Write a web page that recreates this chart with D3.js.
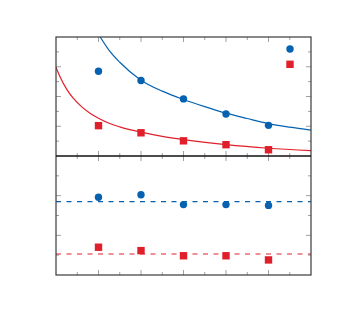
<!DOCTYPE html>
<html>
<head>
<meta charset="utf-8">
<script src="https://cdn.jsdelivr.net/npm/d3@7"></script>
<style>
  html, body { margin: 0; padding: 0; background: #fff; }
  svg { display: block; }
</style>
</head>
<body>
<div id="chart"></div>
<script>
// deux panneaux empilés : décroissance en haut, rapport constant en bas
const xs = [1, 2, 3, 4, 5];

const topBlue = [2.85, 2.54, 1.92, 1.41, 1.03];
const topRed = [1.02, 0.78, 0.51, 0.38, 0.21];

// courbes d'ajustement
const fitBlueX = [1.04, 1.25, 1.5, 2, 2.5, 3, 3.5, 4, 4.5, 5, 5.5, 6];
const fitBlueY = [4.0, 3.55, 3.15, 2.55, 2.18, 1.9, 1.66, 1.44, 1.26, 1.09, 0.97, 0.87];
const fitRedX = [0, 0.1, 0.25, 0.4, 0.6, 0.8, 1, 1.25, 1.5, 2, 2.5, 3, 4, 5, 6];
const fitRedY = [2.98, 2.65, 2.25, 1.95, 1.66, 1.44, 1.27, 1.1, 0.98, 0.8, 0.66, 0.55, 0.38, 0.26, 0.18];

const botBlue = [3.92, 4.05, 3.55, 3.55, 3.51];
const botRed = [1.4, 1.23, 0.97, 0.97, 0.76];
const meanBlue = 3.7;
const meanRed = 1.06;

const BLUE = "#0662b0";
const RED = "#e01f2a";

const W = 338, H = 314;
const pLeft = 56, pRight = 311, pTop = 37, pMid = 156, pBottom = 275;

const svg = d3.select("#chart").append("svg").attr("width", W).attr("height", H);

const x = d3.scaleLinear().domain([0, 6]).range([pLeft, pRight]);
const yTop = d3.scaleLinear().domain([0, 4]).range([pMid, pTop]);
const yBot = d3.scaleLinear().domain([0, 6]).range([pBottom, pMid]);

const xMajor = d3.range(1, 6, 1);
const xMinor = d3.range(0.5, 6, 1);

function ticks(g, vals, len, orient, pos) {
  // orient: "up"/"down" pour l'axe x, "left"/"right" pour y
  for (const v of vals) {
    if (orient === "up" || orient === "down") {
      const px = x(v);
      const dy = orient === "up" ? -len : len;
      g.append("line").attr("x1", px).attr("x2", px).attr("y1", pos).attr("y2", pos + dy);
    } else {
      const dx = orient === "left" ? -len : len;
      g.append("line").attr("x1", pos).attr("x2", pos + dx).attr("y1", v).attr("y2", v);
    }
  }
}

const tg = svg.append("g").attr("stroke", "#a0a0a0").attr("stroke-width", 1);
const MAJ = 5, MIN = 3;
// ticks x : haut, séparation (deux côtés), bas
ticks(tg, xMajor, MAJ, "down", pTop);
ticks(tg, xMinor, MIN, "down", pTop);
ticks(tg, xMajor, MAJ, "up", pMid);
ticks(tg, xMinor, MIN, "up", pMid);
ticks(tg, xMajor, MAJ, "down", pMid);
ticks(tg, xMinor, MIN, "down", pMid);
ticks(tg, xMajor, MAJ, "up", pBottom);
ticks(tg, xMinor, MIN, "up", pBottom);

// ticks y panneau haut
const topMaj = [1, 2, 3].map(yTop);
const topMin = [0.5, 1.5, 2.5, 3.5].map(yTop);
ticks(tg, topMaj, MAJ, "right", pLeft);
ticks(tg, topMin, MIN, "right", pLeft);
ticks(tg, topMaj, MAJ, "left", pRight);
ticks(tg, topMin, MIN, "left", pRight);

// ticks y panneau bas
const botMaj = [2, 4].map(yBot);
const botMin = [1, 3, 5].map(yBot);
ticks(tg, botMaj, MAJ, "right", pLeft);
ticks(tg, botMin, MIN, "right", pLeft);
ticks(tg, botMaj, MAJ, "left", pRight);
ticks(tg, botMin, MIN, "left", pRight);

// clip du panneau haut
svg.append("clipPath").attr("id", "clipTop")
  .append("rect").attr("x", pLeft).attr("y", pTop).attr("width", pRight - pLeft).attr("height", pMid - pTop);

const line = d3.line().curve(d3.curveMonotoneX);

const cg = svg.append("g").attr("clip-path", "url(#clipTop)").attr("fill", "none").attr("stroke-width", 1.2);
cg.append("path")
  .attr("d", line(fitBlueX.map((v, i) => [x(v), yTop(fitBlueY[i])])))
  .attr("stroke", BLUE);
cg.append("path")
  .attr("d", line(fitRedX.map((v, i) => [x(v), yTop(fitRedY[i])])))
  .attr("stroke", RED);

// lignes moyennes en pointillés
svg.append("line")
  .attr("x1", pLeft).attr("x2", pRight)
  .attr("y1", yBot(meanBlue)).attr("y2", yBot(meanBlue))
  .attr("stroke", BLUE).attr("stroke-width", 1.2).attr("stroke-dasharray", "5,5.5");
svg.append("line")
  .attr("x1", pLeft).attr("x2", pRight)
  .attr("y1", yBot(meanRed)).attr("y2", yBot(meanRed))
  .attr("stroke", RED).attr("stroke-width", 1.2).attr("stroke-dasharray", "5,5.5");

const R = 3.7, S = 7.4;

function circles(vals, yScale) {
  svg.append("g").selectAll("circle").data(vals).join("circle")
    .attr("cx", (d, i) => x(xs[i]))
    .attr("cy", (d) => yScale(d))
    .attr("r", R)
    .attr("fill", BLUE);
}
function squares(vals, yScale) {
  svg.append("g").selectAll("rect").data(vals).join("rect")
    .attr("x", (d, i) => x(xs[i]) - S / 2)
    .attr("y", (d) => yScale(d) - S / 2)
    .attr("width", S).attr("height", S)
    .attr("fill", RED);
}

circles(topBlue, yTop);
squares(topRed, yTop);
circles(botBlue, yBot);
squares(botRed, yBot);

// légende (symboles seuls)
const lx = pRight - 21;
svg.append("circle").attr("cx", lx).attr("cy", pTop + 12).attr("r", R).attr("fill", BLUE);
svg.append("rect").attr("x", lx - S / 2).attr("y", pTop + 27.3 - S / 2).attr("width", S).attr("height", S).attr("fill", RED);

// cadres
svg.append("rect")
  .attr("x", pLeft).attr("y", pTop).attr("width", pRight - pLeft).attr("height", pBottom - pTop)
  .attr("fill", "none").attr("stroke", "#3a3a3a").attr("stroke-width", 1.2);
svg.append("line")
  .attr("x1", pLeft).attr("x2", pRight).attr("y1", pMid).attr("y2", pMid)
  .attr("stroke", "#111").attr("stroke-width", 1.3);
</script>
</body>
</html>
